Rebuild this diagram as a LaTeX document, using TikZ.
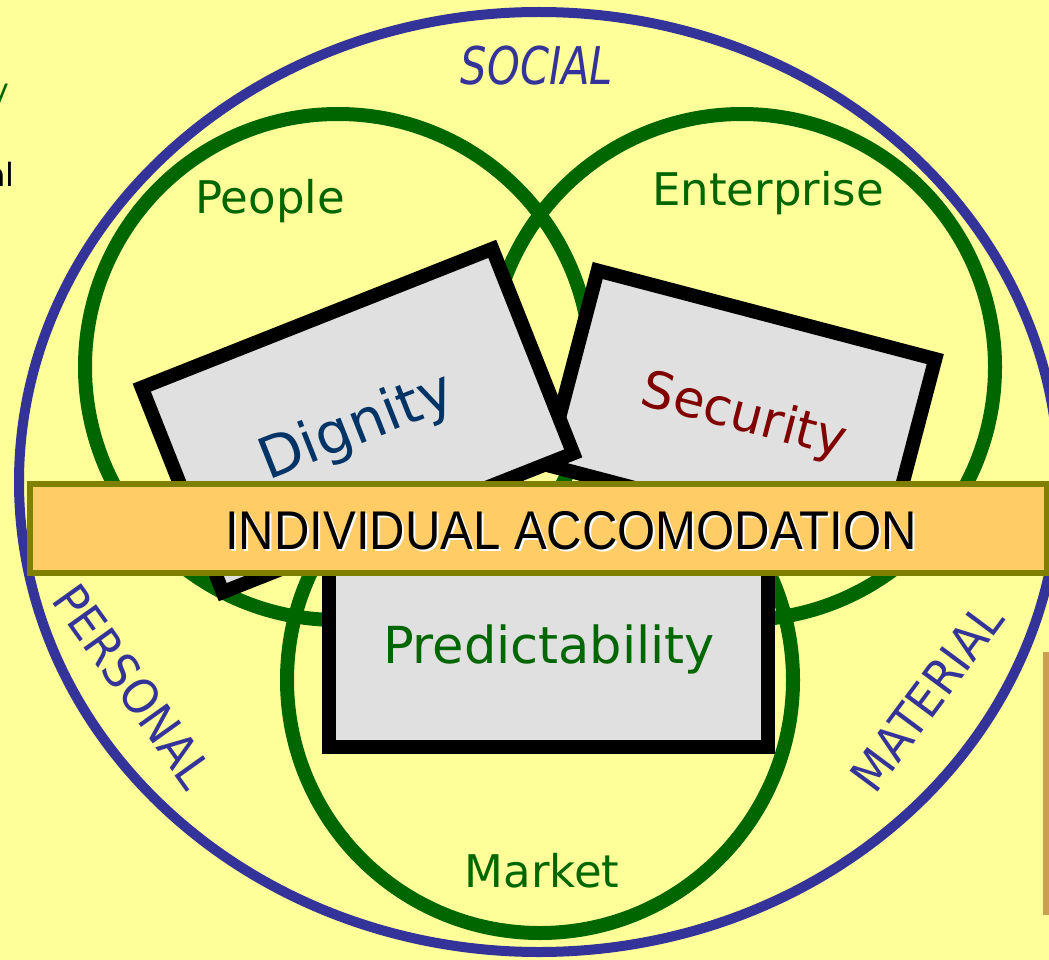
\documentclass[tikz,border=0pt]{standalone}
\usepackage{fontspec}
\setmainfont{DejaVu Sans}
\newfontfamily\bannerfont{Liberation Sans}
\definecolor{bg}{RGB}{255,255,153}
\definecolor{ringblue}{RGB}{51,51,153}
\definecolor{ringgreen}{RGB}{0,102,0}
\definecolor{boxgray}{RGB}{224,224,224}
\definecolor{dignityblue}{RGB}{0,51,102}
\definecolor{securityred}{RGB}{128,0,0}
\definecolor{bannerfill}{RGB}{255,204,102}
\definecolor{bannerline}{RGB}{128,128,0}
\definecolor{edgetan}{RGB}{200,160,80}
\begin{document}
\begin{tikzpicture}[x=1pt,y=-1pt,
  ring/.style={draw=ringgreen,line width=14pt},
  valuebox/.style={draw=black,line width=14pt,fill=boxgray,inner sep=0pt},
  ringlabel/.style={text=ringgreen,font=\fontsize{45}{50}\selectfont,anchor=base,inner sep=0pt},
  sphere/.style={text=ringblue,font=\fontsize{46}{50}\selectfont,inner sep=0pt},
  valuetext/.style={font=\fontsize{54}{60}\selectfont,anchor=base,inner sep=0pt},
  bannertext/.style={font=\bannerfont\fontsize{54.5}{60}\selectfont,anchor=base,inner sep=0pt,xscale=0.9}
]
\useasboundingbox (0,0) rectangle (1049,960);
\fill[bg] (0,0) rectangle (1049,960);
\begin{scope}
\clip (0,0) rectangle (1049,960);
% outer ellipse
\draw[ringblue,line width=10pt] (539,482) ellipse [x radius=520, y radius=470];
% green circles
\draw[ring] (338,367) circle [radius=253];
\draw[ring] (742,367) circle [radius=253];
\draw[ring] (540,680) circle [radius=253];
% circle labels
\node[ringlabel] (people) at (270,214) {People};
\node[ringlabel] (enterprise) at (768,206) {Enterprise};
\node[ringlabel] (market) at (542,887) {Market};
% sphere labels
\node[sphere,anchor=base,font=\itshape\fontsize{52}{54}\selectfont,xscale=0.8] (social) at (537,85) {SOCIAL};
\node[sphere,rotate=-54.5,xscale=0.92,font=\fontsize{48}{50}\selectfont] (personal) at (133,686) {PERSONAL};
\node[sphere,rotate=53.4,xscale=0.92,font=\fontsize{48}{50}\selectfont] (material) at (927,697) {MATERIAL};
% value boxes
\node[valuebox,minimum width=349pt,minimum height=201pt,rotate=-14.7] (securitybox) at (741,412) {};
\node[valuetext,text=securityred,rotate=-14.7,font=\fontsize{51}{56}\selectfont] (security) at (740,431) {Security};
\node[valuebox,minimum width=377pt,minimum height=220pt,rotate=21.6] (dignitybox) at (357.5,420.5) {};
\node[valuetext,text=dignityblue,rotate=21.6,font=\fontsize{57}{62}\selectfont] (dignity) at (363,443) {Dignity};
\node[valuebox,minimum width=439pt,minimum height=202pt] (predictbox) at (548.5,646) {};
\node[valuetext,text=ringgreen,font=\fontsize{51}{56}\selectfont] (predict) at (549,663) {Predictability};
% banner
\draw[bannerline,fill=bannerfill,line width=6pt] (30,484) rectangle (1046.5,573);
\node[bannertext,text=white] (bannershadow) at (573,551) {INDIVIDUAL ACCOMODATION};
\node[bannertext,text=black] (banner) at (571,549) {INDIVIDUAL ACCOMODATION};
% cut-off fragments at the left margin
\node[anchor=base east,inner sep=0pt,text=ringgreen,font=\fontsize{30}{34}\selectfont] (fragy) at (9,101) {y};
\node[anchor=base east,inner sep=0pt,text=black,font=\fontsize{32}{36}\selectfont] (fragal) at (15,187) {al};
% edge of a box at the right margin
\fill[edgetan] (1043,652) rectangle (1049,915);
\end{scope}
\end{tikzpicture}
\end{document}
